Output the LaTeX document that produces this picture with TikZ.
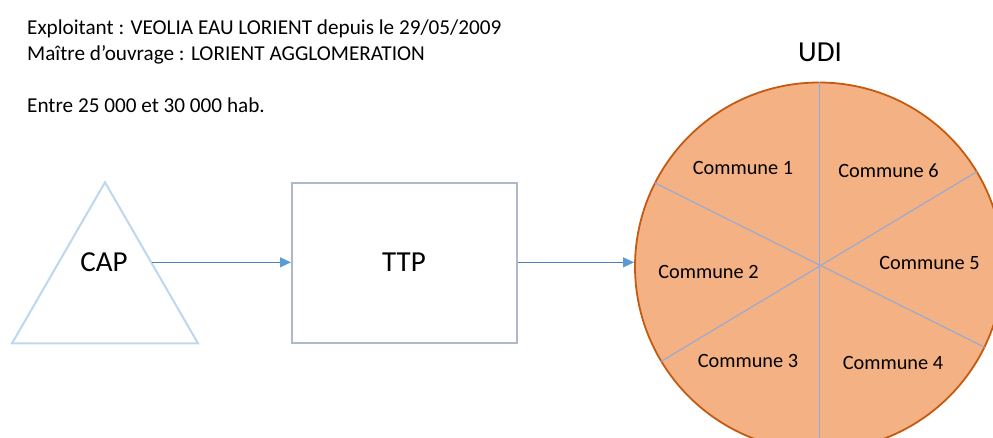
\documentclass[tikz,border=0pt]{standalone}
\usepackage{fontspec}
\setmainfont{Carlito}
\usepackage{xcolor}
\usetikzlibrary{arrows.meta,shapes.geometric,calc}

\definecolor{triline}{HTML}{BDD7EE}
\definecolor{boxline}{HTML}{ADB9CA}
\definecolor{flowline}{HTML}{4A7EBB}
\definecolor{flowtip}{HTML}{5B9BD5}
\definecolor{udifill}{HTML}{F4B183}
\definecolor{udiline}{HTML}{C55A11}
\definecolor{cutline}{HTML}{8EA9DB}

\begin{document}
\begin{tikzpicture}[x=1pt, y=-1pt,
  hdr/.style={anchor=base west, inner sep=0pt, font=\fontsize{21.2}{25}\selectfont},
  big/.style={anchor=base, inner sep=0pt, font=\fontsize{29}{34}\selectfont},
  com/.style={anchor=base, inner sep=0pt, font=\fontsize{20.3}{24}\selectfont},
  src/.style={regular polygon, regular polygon sides=3, draw=triline,
              line width=2pt, minimum size=214.8pt, inner sep=0pt},
  proc/.style={rectangle, draw=boxline, line width=2pt,
               minimum width=225pt, minimum height=160pt, inner sep=0pt},
  zone/.style={circle, draw=udiline, fill=udifill, line width=1.8pt,
               minimum size=368pt, inner sep=0pt},
  cut/.style={draw=cutline, line width=1pt},
  flow/.style={draw=flowline, line width=1pt,
               -{Triangle[length=11pt, width=10pt, color=flowtip]}}
]
  \useasboundingbox (0,0) rectangle (993,438);

  % en-tete
  \node[hdr] (expl) at (27,35) {Exploitant : VEOLIA EAU LORIENT depuis le 29/05/2009};
  \node[hdr] (moa) at (27,61) {Maître d’ouvrage : LORIENT AGGLOMERATION};
  \node[hdr] (hab) at (27,113) {Entre 25 000 et 30 000 hab.};

  % captage, traitement
  \node[src] (tri) at (105,289.7) {};
  \node[big] (cap) at (104,272) {CAP};
  \node[proc] (ttp) at (404.5,263) {};
  \node[big] (ttplbl) at (404,272) {TTP};

  % unite de distribution
  \node[zone] (udi) at (819,266.5) {};
  \node[big] (udilbl) at (820,62) {UDI};
  \draw[cut] (udi.north) -- (udi.south);
  \draw[cut] (udi.153.5) -- (udi.-26.5);
  \draw[cut] (udi.211) -- (udi.31);

  \node[com] (c1) at (743,175) {Commune 1};
  \node[com] (c2) at (708.5,279) {Commune 2};
  \node[com] (c3) at (748,367) {Commune 3};
  \node[com] (c4) at (893,369) {Commune 4};
  \node[com] (c5) at (929.5,270) {Commune 5};
  \node[com] (c6) at (888.5,178) {Commune 6};

  \coordinate (capout) at ($(tri.corner 1)!0.5!(tri.corner 3)$);
  \draw[flow] (capout) -- (capout -| ttp.west);
  \draw[flow] (ttp.east |- capout) -- (capout -| udi.west);
\end{tikzpicture}
\end{document}
